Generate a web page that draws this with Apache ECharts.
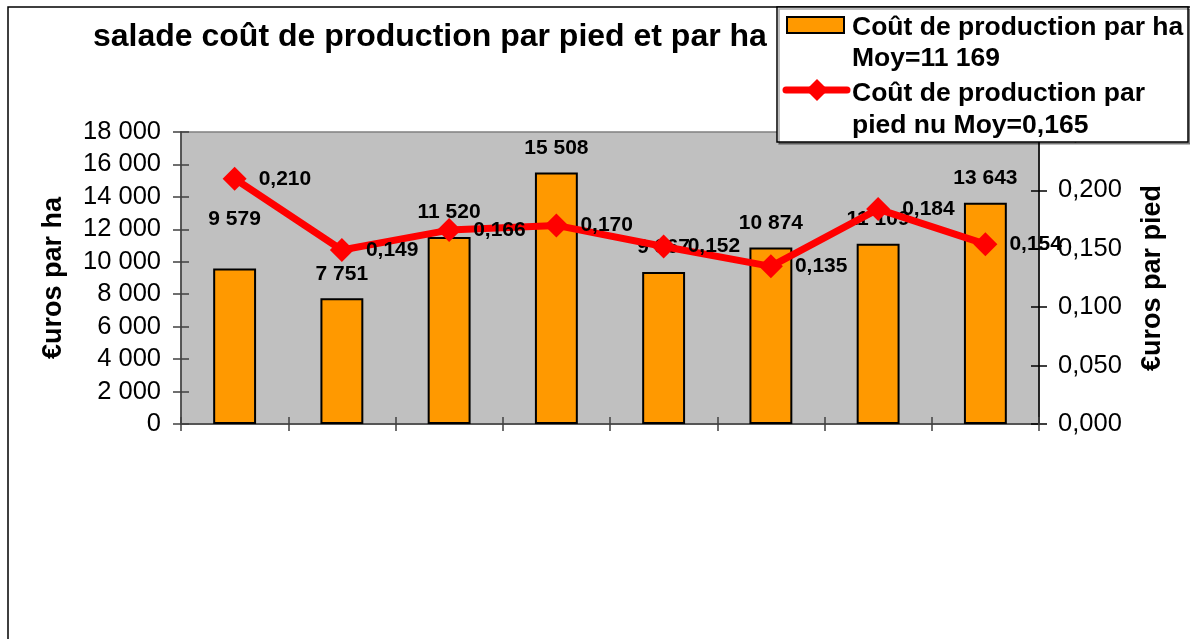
<!DOCTYPE html>
<html>
<head>
<meta charset="utf-8">
<script src="https://cdn.jsdelivr.net/npm/echarts@6/dist/echarts.min.js"></script>
<style>
  html, body { margin: 0; padding: 0; background: #fff; }
  #chart { width: 1190px; height: 639px; }
</style>
</head>
<body>
<div id="chart"></div>
<script>
const categories = ["1", "2", "3", "4", "5", "6", "7", "8"];
const costPerHa = [9579, 7751, 11520, 15508, 9367, 10874, 11109, 13643];
const costPerPied = [0.210, 0.149, 0.166, 0.170, 0.152, 0.135, 0.184, 0.154];
const seriesNames = ["Coût de production par ha", "Coût de production par pied nu"];
const legendLines = [
  ["Coût de production par ha", "Moy=11 169"],
  ["Coût de production par", "pied nu Moy=0,165"],
];
const titleText = "salade coût de production par pied et par ha";
const leftAxisName = "€uros par ha";
const rightAxisName = "€uros par pied";

const font = "Arial, 'Liberation Sans', sans-serif";

const fmtThousands = (v) => String(Math.round(v)).replace(/\B(?=(\d{3})+(?!\d))/g, " ");
const fmtDec = (v) => v.toFixed(3).replace(".", ",");

const chart = echarts.init(document.getElementById("chart"));

// base y axes (labels + outward ticks) and overlay axes for the inward half of the cross ticks
const yLeft = {
  type: "value", position: "left", min: 0, max: 18000, interval: 2000,
  name: leftAxisName, nameLocation: "middle", nameRotate: 90, nameGap: 114,
  nameTextStyle: { fontFamily: font, fontSize: 27, fontWeight: "bold", color: "#000" },
  axisLine: { show: true, lineStyle: { color: "#404040", width: 1.5 } },
  axisTick: { show: true, length: 8, lineStyle: { color: "#404040", width: 1.5 } },
  axisLabel: { fontFamily: font, fontSize: 25.5, color: "#000", margin: 20, formatter: fmtThousands },
  splitLine: { show: false },
};
const yRight = {
  type: "value", position: "right", min: 0, max: 0.25, interval: 0.05,
  name: rightAxisName, nameLocation: "middle", nameRotate: 90, nameGap: 100,
  nameTextStyle: { fontFamily: font, fontSize: 27, fontWeight: "bold", color: "#000" },
  axisLine: { show: true, lineStyle: { color: "#000", width: 1.5 } },
  axisTick: { show: true, length: 8, lineStyle: { color: "#000", width: 1.5 } },
  axisLabel: { fontFamily: font, fontSize: 25.5, color: "#000", margin: 19, formatter: fmtDec },
  splitLine: { show: false },
};
const innerTicks = (base) => ({
  type: "value", position: base.position, min: base.min, max: base.max, interval: base.interval,
  axisLine: { show: false },
  axisTick: { show: true, inside: true, length: 8, lineStyle: base.axisTick.lineStyle },
  axisLabel: { show: false },
  splitLine: { show: false },
});

const option = {
  animation: false,
  backgroundColor: "#fff",
  title: {
    text: titleText, left: 93, top: 21, padding: 0,
    textStyle: { fontFamily: font, fontSize: 32, fontWeight: "bold", color: "#000" },
  },
  grid: {
    left: 181, right: 151, top: 132, bottom: 215,
    show: true, backgroundColor: "#C0C0C0", borderColor: "#808080", borderWidth: 1.5,
  },
  xAxis: [
    {
      type: "category", data: categories, boundaryGap: true,
      axisLine: { show: true, lineStyle: { color: "#404040", width: 1.5 } },
      axisTick: { show: true, length: 7, lineStyle: { color: "#404040", width: 1.5 } },
      axisLabel: { show: false },
    },
    {
      type: "category", data: categories, position: "bottom", boundaryGap: true,
      axisLine: { show: false },
      axisTick: { show: true, inside: true, length: 7, lineStyle: { color: "#404040", width: 1.5 } },
      axisLabel: { show: false },
    },
  ],
  yAxis: [yLeft, yRight, innerTicks(yLeft), innerTicks(yRight)],
  series: [
    {
      name: seriesNames[0], type: "bar", yAxisIndex: 0, barWidth: "40%",
      itemStyle: { color: "#FF9900", borderColor: "#000", borderWidth: 2 },
      label: {
        show: true, position: "top", distance: 14,
        fontFamily: font, fontSize: 21, fontWeight: "bold", color: "#000",
        formatter: (p) => fmtThousands(p.value),
      },
      data: costPerHa.map((v, i) => (i === 0 ? { value: v, label: { distance: 39 } } : v)),
      z: 2,
    },
    {
      name: seriesNames[1], type: "line", yAxisIndex: 1,
      symbol: "diamond", symbolSize: 24,
      lineStyle: { color: "#FF0000", width: 7 },
      itemStyle: { color: "#FF0000" },
      label: {
        show: true, position: "right", distance: 12,
        fontFamily: font, fontSize: 21, fontWeight: "bold", color: "#000",
        formatter: (p) => fmtDec(p.value),
      },
      data: costPerPied,
      z: 3,
    },
  ],
  graphic: [
    // outer chart border
    {
      type: "rect", z: 0, silent: true,
      shape: { x: 8, y: 7, width: 1200, height: 700 },
      style: { fill: null, stroke: "#000", lineWidth: 1.5 },
    },
    // legend box
    {
      type: "rect", z: 100, silent: true,
      shape: { x: 777, y: 7, width: 411, height: 135 },
      style: { fill: "#fff", stroke: "#000", lineWidth: 1.5, shadowColor: "rgba(0,0,0,0.35)", shadowOffsetX: 2, shadowOffsetY: 2 },
    },
    {
      type: "rect", z: 101, silent: true,
      shape: { x: 787, y: 17, width: 57, height: 16 },
      style: { fill: "#FF9900", stroke: "#000", lineWidth: 2 },
    },
    {
      type: "text", z: 101, silent: true, x: 852, y: 12,
      style: { text: legendLines[0].join("\n"), font: "bold 26.5px " + font, fill: "#000", lineHeight: 31 },
    },
    {
      type: "line", z: 101, silent: true, shape: { x1: 786, y1: 90, x2: 847, y2: 90 },
      style: { stroke: "#FF0000", lineWidth: 7, lineCap: "round" },
    },
    {
      type: "polygon", z: 102, silent: true,
      shape: { points: [[817, 79], [828, 90], [817, 101], [806, 90]] },
      style: { fill: "#FF0000" },
    },
    {
      type: "text", z: 101, silent: true, x: 852, y: 78,
      style: { text: legendLines[1].join("\n"), font: "bold 26.5px " + font, fill: "#000", lineHeight: 32 },
    },
  ],
};

chart.setOption(option);
window.addEventListener("resize", () => chart.resize());
</script>
</body>
</html>
